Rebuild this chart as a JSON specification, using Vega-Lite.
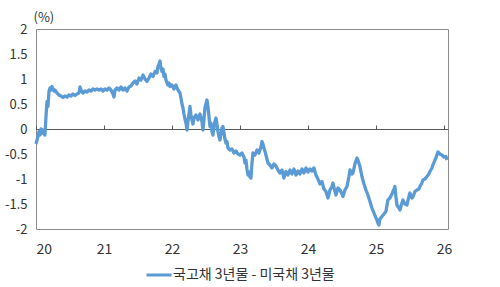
{
  "$schema": "https://vega.github.io/schema/vega-lite/v6.json",
  "width": 412,
  "height": 200,
  "autosize": {"type": "none"},
  "padding": {"left": 36, "top": 29, "right": 52, "bottom": 58},
  "background": "white",
  "config": {
    "font": "Noto Sans CJK KR",
    "view": {"stroke": "#8c8c8c", "strokeWidth": 1}
  },
  "data": {
    "values": [
      {"t": 20.000, "v": -0.30}, {"t": 20.015, "v": -0.22}, {"t": 20.029, "v": -0.15}, {"t": 20.044, "v": -0.05},
      {"t": 20.059, "v": -0.12}, {"t": 20.074, "v": 0.00}, {"t": 20.088, "v": -0.08}, {"t": 20.103, "v": -0.02},
      {"t": 20.118, "v": -0.10}, {"t": 20.132, "v": -0.12}, {"t": 20.147, "v": 0.25}, {"t": 20.162, "v": 0.55},
      {"t": 20.176, "v": 0.45}, {"t": 20.191, "v": 0.75}, {"t": 20.206, "v": 0.82}, {"t": 20.221, "v": 0.78},
      {"t": 20.235, "v": 0.85}, {"t": 20.250, "v": 0.80}, {"t": 20.265, "v": 0.76}, {"t": 20.279, "v": 0.78},
      {"t": 20.309, "v": 0.72}, {"t": 20.338, "v": 0.68}, {"t": 20.368, "v": 0.66}, {"t": 20.397, "v": 0.63},
      {"t": 20.426, "v": 0.66}, {"t": 20.456, "v": 0.64}, {"t": 20.485, "v": 0.68}, {"t": 20.515, "v": 0.66},
      {"t": 20.544, "v": 0.70}, {"t": 20.574, "v": 0.67}, {"t": 20.603, "v": 0.70}, {"t": 20.632, "v": 0.72},
      {"t": 20.647, "v": 0.84}, {"t": 20.662, "v": 0.78}, {"t": 20.691, "v": 0.72}, {"t": 20.721, "v": 0.76},
      {"t": 20.750, "v": 0.74}, {"t": 20.779, "v": 0.78}, {"t": 20.809, "v": 0.76}, {"t": 20.838, "v": 0.80},
      {"t": 20.868, "v": 0.78}, {"t": 20.897, "v": 0.80}, {"t": 20.926, "v": 0.78}, {"t": 20.956, "v": 0.80},
      {"t": 20.985, "v": 0.76}, {"t": 21.015, "v": 0.80}, {"t": 21.044, "v": 0.78}, {"t": 21.074, "v": 0.82},
      {"t": 21.103, "v": 0.78}, {"t": 21.132, "v": 0.70}, {"t": 21.147, "v": 0.64}, {"t": 21.162, "v": 0.78},
      {"t": 21.191, "v": 0.82}, {"t": 21.221, "v": 0.78}, {"t": 21.250, "v": 0.84}, {"t": 21.279, "v": 0.78},
      {"t": 21.309, "v": 0.82}, {"t": 21.338, "v": 0.76}, {"t": 21.368, "v": 0.84}, {"t": 21.397, "v": 0.86},
      {"t": 21.426, "v": 0.92}, {"t": 21.456, "v": 0.96}, {"t": 21.485, "v": 0.90}, {"t": 21.515, "v": 1.02},
      {"t": 21.544, "v": 0.98}, {"t": 21.574, "v": 1.08}, {"t": 21.603, "v": 1.00}, {"t": 21.632, "v": 0.95},
      {"t": 21.662, "v": 1.02}, {"t": 21.691, "v": 1.10}, {"t": 21.721, "v": 1.05}, {"t": 21.750, "v": 1.15},
      {"t": 21.779, "v": 1.12}, {"t": 21.794, "v": 1.25}, {"t": 21.809, "v": 1.30}, {"t": 21.824, "v": 1.36},
      {"t": 21.838, "v": 1.22}, {"t": 21.853, "v": 1.15}, {"t": 21.868, "v": 1.20}, {"t": 21.882, "v": 1.05},
      {"t": 21.897, "v": 1.10}, {"t": 21.912, "v": 0.98}, {"t": 21.926, "v": 0.92}, {"t": 21.941, "v": 0.88},
      {"t": 21.956, "v": 0.92}, {"t": 21.971, "v": 0.85}, {"t": 22.000, "v": 0.88}, {"t": 22.029, "v": 0.80},
      {"t": 22.059, "v": 0.88}, {"t": 22.088, "v": 0.78}, {"t": 22.118, "v": 0.72}, {"t": 22.132, "v": 0.62},
      {"t": 22.147, "v": 0.50}, {"t": 22.162, "v": 0.42}, {"t": 22.176, "v": 0.30}, {"t": 22.191, "v": 0.20},
      {"t": 22.206, "v": 0.12}, {"t": 22.221, "v": -0.02}, {"t": 22.235, "v": 0.15}, {"t": 22.250, "v": 0.30},
      {"t": 22.265, "v": 0.45}, {"t": 22.279, "v": 0.28}, {"t": 22.294, "v": 0.18}, {"t": 22.309, "v": 0.10},
      {"t": 22.324, "v": 0.22}, {"t": 22.353, "v": 0.28}, {"t": 22.382, "v": 0.18}, {"t": 22.412, "v": 0.30},
      {"t": 22.441, "v": 0.15}, {"t": 22.456, "v": -0.02}, {"t": 22.471, "v": 0.20}, {"t": 22.485, "v": 0.42},
      {"t": 22.500, "v": 0.50}, {"t": 22.515, "v": 0.58}, {"t": 22.529, "v": 0.45}, {"t": 22.544, "v": 0.25},
      {"t": 22.559, "v": 0.05}, {"t": 22.574, "v": 0.12}, {"t": 22.588, "v": -0.05}, {"t": 22.603, "v": -0.12},
      {"t": 22.618, "v": 0.05}, {"t": 22.632, "v": 0.15}, {"t": 22.647, "v": 0.22}, {"t": 22.662, "v": 0.10},
      {"t": 22.676, "v": -0.05}, {"t": 22.691, "v": -0.15}, {"t": 22.706, "v": -0.22}, {"t": 22.721, "v": -0.10},
      {"t": 22.735, "v": 0.02}, {"t": 22.750, "v": 0.05}, {"t": 22.765, "v": -0.08}, {"t": 22.779, "v": -0.20},
      {"t": 22.794, "v": -0.28}, {"t": 22.809, "v": -0.25}, {"t": 22.824, "v": -0.38}, {"t": 22.853, "v": -0.42},
      {"t": 22.882, "v": -0.40}, {"t": 22.912, "v": -0.48}, {"t": 22.941, "v": -0.44}, {"t": 22.971, "v": -0.50},
      {"t": 23.000, "v": -0.52}, {"t": 23.029, "v": -0.48}, {"t": 23.059, "v": -0.56}, {"t": 23.074, "v": -0.68},
      {"t": 23.088, "v": -0.62}, {"t": 23.103, "v": -0.80}, {"t": 23.118, "v": -0.92}, {"t": 23.132, "v": -0.86},
      {"t": 23.147, "v": -0.96}, {"t": 23.162, "v": -0.98}, {"t": 23.176, "v": -0.70}, {"t": 23.191, "v": -0.48},
      {"t": 23.221, "v": -0.52}, {"t": 23.250, "v": -0.42}, {"t": 23.279, "v": -0.48}, {"t": 23.309, "v": -0.36},
      {"t": 23.324, "v": -0.25}, {"t": 23.338, "v": -0.30}, {"t": 23.353, "v": -0.38}, {"t": 23.368, "v": -0.45},
      {"t": 23.382, "v": -0.52}, {"t": 23.397, "v": -0.60}, {"t": 23.412, "v": -0.68}, {"t": 23.441, "v": -0.72},
      {"t": 23.471, "v": -0.78}, {"t": 23.500, "v": -0.70}, {"t": 23.529, "v": -0.74}, {"t": 23.559, "v": -0.82},
      {"t": 23.588, "v": -0.88}, {"t": 23.618, "v": -0.82}, {"t": 23.647, "v": -0.98}, {"t": 23.676, "v": -0.85},
      {"t": 23.706, "v": -0.92}, {"t": 23.735, "v": -0.82}, {"t": 23.765, "v": -0.90}, {"t": 23.794, "v": -0.80},
      {"t": 23.824, "v": -0.92}, {"t": 23.853, "v": -0.84}, {"t": 23.882, "v": -0.90}, {"t": 23.912, "v": -0.80},
      {"t": 23.941, "v": -0.88}, {"t": 23.971, "v": -0.78}, {"t": 24.000, "v": -0.86}, {"t": 24.029, "v": -0.80},
      {"t": 24.059, "v": -0.84}, {"t": 24.088, "v": -0.78}, {"t": 24.118, "v": -0.92}, {"t": 24.147, "v": -1.00},
      {"t": 24.176, "v": -1.10}, {"t": 24.206, "v": -1.05}, {"t": 24.235, "v": -1.20}, {"t": 24.265, "v": -1.25},
      {"t": 24.294, "v": -1.38}, {"t": 24.324, "v": -1.22}, {"t": 24.353, "v": -1.15}, {"t": 24.368, "v": -1.08},
      {"t": 24.397, "v": -1.25}, {"t": 24.412, "v": -1.32}, {"t": 24.441, "v": -1.18}, {"t": 24.471, "v": -1.22},
      {"t": 24.500, "v": -1.30}, {"t": 24.515, "v": -1.35}, {"t": 24.544, "v": -1.22}, {"t": 24.574, "v": -1.15},
      {"t": 24.603, "v": -0.95}, {"t": 24.618, "v": -0.82}, {"t": 24.647, "v": -0.90}, {"t": 24.662, "v": -0.88},
      {"t": 24.691, "v": -0.70}, {"t": 24.721, "v": -0.58}, {"t": 24.735, "v": -0.62}, {"t": 24.765, "v": -0.75},
      {"t": 24.794, "v": -0.95}, {"t": 24.824, "v": -1.10}, {"t": 24.853, "v": -1.22}, {"t": 24.882, "v": -1.32},
      {"t": 24.912, "v": -1.45}, {"t": 24.941, "v": -1.58}, {"t": 24.971, "v": -1.68}, {"t": 25.000, "v": -1.78},
      {"t": 25.015, "v": -1.82}, {"t": 25.029, "v": -1.88}, {"t": 25.044, "v": -1.92}, {"t": 25.059, "v": -1.80},
      {"t": 25.088, "v": -1.75}, {"t": 25.118, "v": -1.70}, {"t": 25.147, "v": -1.65}, {"t": 25.176, "v": -1.42},
      {"t": 25.206, "v": -1.38}, {"t": 25.235, "v": -1.30}, {"t": 25.265, "v": -1.20}, {"t": 25.279, "v": -1.15},
      {"t": 25.294, "v": -1.35}, {"t": 25.309, "v": -1.52}, {"t": 25.338, "v": -1.58}, {"t": 25.353, "v": -1.62},
      {"t": 25.382, "v": -1.48}, {"t": 25.397, "v": -1.42}, {"t": 25.426, "v": -1.50}, {"t": 25.456, "v": -1.52},
      {"t": 25.485, "v": -1.35}, {"t": 25.500, "v": -1.28}, {"t": 25.529, "v": -1.38}, {"t": 25.544, "v": -1.36},
      {"t": 25.574, "v": -1.25}, {"t": 25.603, "v": -1.22}, {"t": 25.632, "v": -1.20}, {"t": 25.647, "v": -1.15},
      {"t": 25.676, "v": -1.08}, {"t": 25.691, "v": -1.02}, {"t": 25.721, "v": -1.00}, {"t": 25.750, "v": -0.95},
      {"t": 25.779, "v": -0.90}, {"t": 25.794, "v": -0.85}, {"t": 25.824, "v": -0.78}, {"t": 25.838, "v": -0.72},
      {"t": 25.868, "v": -0.62}, {"t": 25.882, "v": -0.58}, {"t": 25.897, "v": -0.52}, {"t": 25.912, "v": -0.46},
      {"t": 25.941, "v": -0.50}, {"t": 25.971, "v": -0.52}, {"t": 26.000, "v": -0.56}, {"t": 26.029, "v": -0.55},
      {"t": 26.044, "v": -0.62}
    ]
  },
  "transform": [{"calculate": "'국고채 3년물 - 미국채 3년물'", "as": "s"}],
  "mark": {"type": "line", "strokeWidth": 3.3, "strokeJoin": "round"},
  "encoding": {
    "x": {
      "field": "t",
      "type": "quantitative",
      "scale": {"domain": [20, 26.06], "nice": false, "zero": false},
      "axis": {
        "title": null,
        "values": [20, 21, 22, 23, 24, 25, 26],
        "labelExpr": "'' + datum.value",
        "offset": -100,
        "domainColor": "#595959",
        "domainWidth": 1,
        "tickColor": "#595959",
        "tickSize": -4,
        "labelPadding": 117,
        "labelFontSize": 14,
        "labelColor": "#333333",
        "grid": false
      }
    },
    "y": {
      "field": "v",
      "type": "quantitative",
      "scale": {"domain": [-2, 2], "nice": false},
      "axis": {
        "title": "(%)",
        "titleAngle": 0,
        "titleAlign": "left",
        "titleBaseline": "middle",
        "titleX": -3,
        "titleY": -12,
        "titleFontSize": 13,
        "titleFontWeight": "normal",
        "titleColor": "#333333",
        "values": [-2, -1.5, -1, -0.5, 0, 0.5, 1, 1.5, 2],
        "labelExpr": "'' + datum.value",
        "ticks": false,
        "domain": false,
        "grid": false,
        "labelPadding": 9,
        "labelFontSize": 13,
        "labelColor": "#333333"
      }
    },
    "color": {
      "field": "s",
      "type": "nominal",
      "scale": {"range": ["#5B9BD5"]},
      "legend": {
        "title": null,
        "orient": "none",
        "legendX": 109,
        "legendY": 232,
        "symbolType": "stroke",
        "symbolSize": 625,
        "symbolStrokeWidth": 3,
        "labelFontSize": 14,
        "labelLimit": 0,
        "labelColor": "#333333",
        "labelOffset": 0
      }
    }
  }
}
